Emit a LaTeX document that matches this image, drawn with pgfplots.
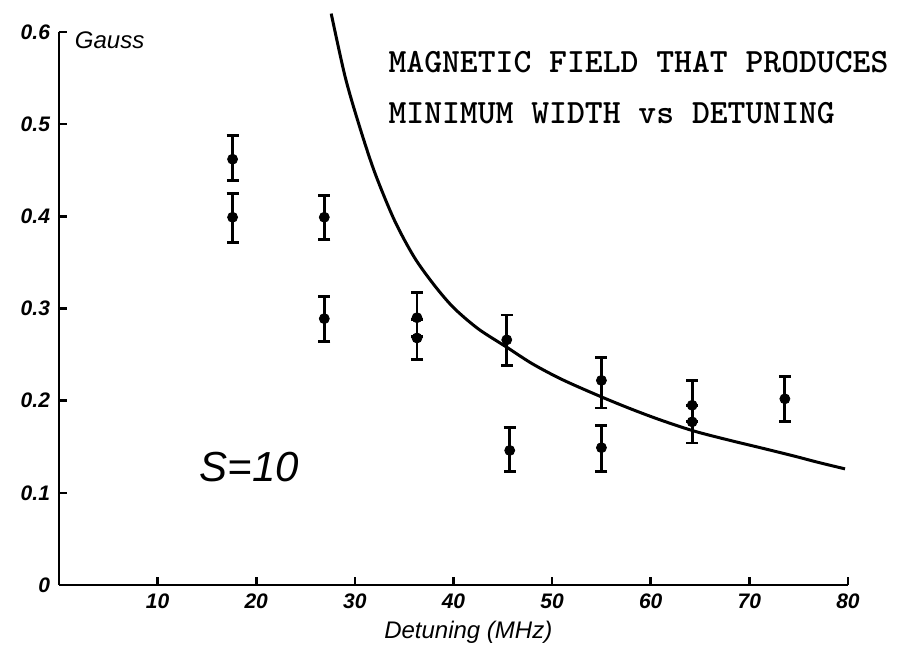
\documentclass[border=0pt]{standalone}
\usepackage{fontspec}
\setmainfont{DejaVu Sans}
\newfontfamily\hand{Liberation Sans}
\usepackage{pgfplots}
\pgfplotsset{compat=1.18}

% measured points: detuning, field, bar up, bar down
\pgfplotstableread{
x     y      ep     em
17.6  0.462  0.026  0.023
17.6  0.399  0.026  0.027
26.9  0.399  0.024  0.024
26.9  0.289  0.024  0.025
36.3  0.290  0.027  0.020
36.3  0.268  0.020  0.023
45.4  0.266  0.027  0.028
45.7  0.146  0.025  0.023
55.0  0.222  0.025  0.030
55.0  0.149  0.024  0.026
64.2  0.195  0.027  0.018
64.2  0.177  0.018  0.023
73.6  0.202  0.024  0.025
}\meas

\begin{document}
\begin{tikzpicture}
\useasboundingbox (-29.5pt,-32.5pt) rectangle (426.5pt,292.5pt);
\begin{axis}[
  at={(0,0)}, anchor=south west,
  scale only axis, width=394.5pt, height=276.5pt,
  xmin=0, xmax=80, ymin=0, ymax=0.6,
  axis x line=bottom, axis y line=left,
  axis line style={-, line width=1.4pt},
  tick style={line width=1.3pt, black}, major tick length=4pt, tick align=inside,
  xtick={10,20,...,80},
  ytick={0,0.1,...,0.6}, yticklabels={0,0.1,0.2,0.3,0.4,0.5,0.6},
  /pgf/number format/assume math mode=true,
  tick label style={font=\hand\bfseries\itshape\fontsize{10.5}{12}\selectfont},
  xticklabel style={yshift=-1pt},
  yticklabel style={xshift=-1pt},
  clip=false]
\addplot[black, line width=1.5pt, smooth, tension=0.5]
  coordinates {(27.6,0.620) (29.0,0.552) (30.4,0.500) (32.0,0.448) (34.0,0.396)
               (36.0,0.356) (38.0,0.326) (40.0,0.301) (42.5,0.278) (45.4,0.258)
               (48.0,0.240) (51.0,0.223) (54.8,0.205) (58.0,0.191) (61.0,0.179)
               (64.4,0.167) (68.0,0.157) (71.1,0.149) (74.5,0.140) (77.0,0.133) (79.7,0.126)};
\addplot[black, only marks, mark=*, mark size=2.5pt,
  error bars/.cd, y dir=both, y explicit,
  error bar style={line width=1.4pt},
  error mark options={rotate=90, mark size=3pt, line width=1.4pt}]
  table[x=x, y=y, y error plus=ep, y error minus=em] {\meas};
\node[anchor=base west, font=\hand\itshape\fontsize{12}{14}\selectfont] at (axis cs:0.9,0.582) {Gauss};
\node[font=\hand\itshape\fontsize{21}{24}\selectfont] at (axis cs:19.3,0.128) {S=10};
\node[anchor=base west, font=\ttfamily\bfseries\fontsize{17}{20}\selectfont] at (axis cs:32.7,0.556) {MAGNETIC FIELD THAT PRODUCES};
\node[anchor=base west, font=\ttfamily\bfseries\fontsize{17}{20}\selectfont] at (axis cs:32.7,0.501) {MINIMUM WIDTH vs DETUNING};
\node[font=\hand\itshape\fontsize{12}{14}\selectfont] at (axis cs:41.5,-0.051) {Detuning (MHz)};
\end{axis}
\end{tikzpicture}
\end{document}
